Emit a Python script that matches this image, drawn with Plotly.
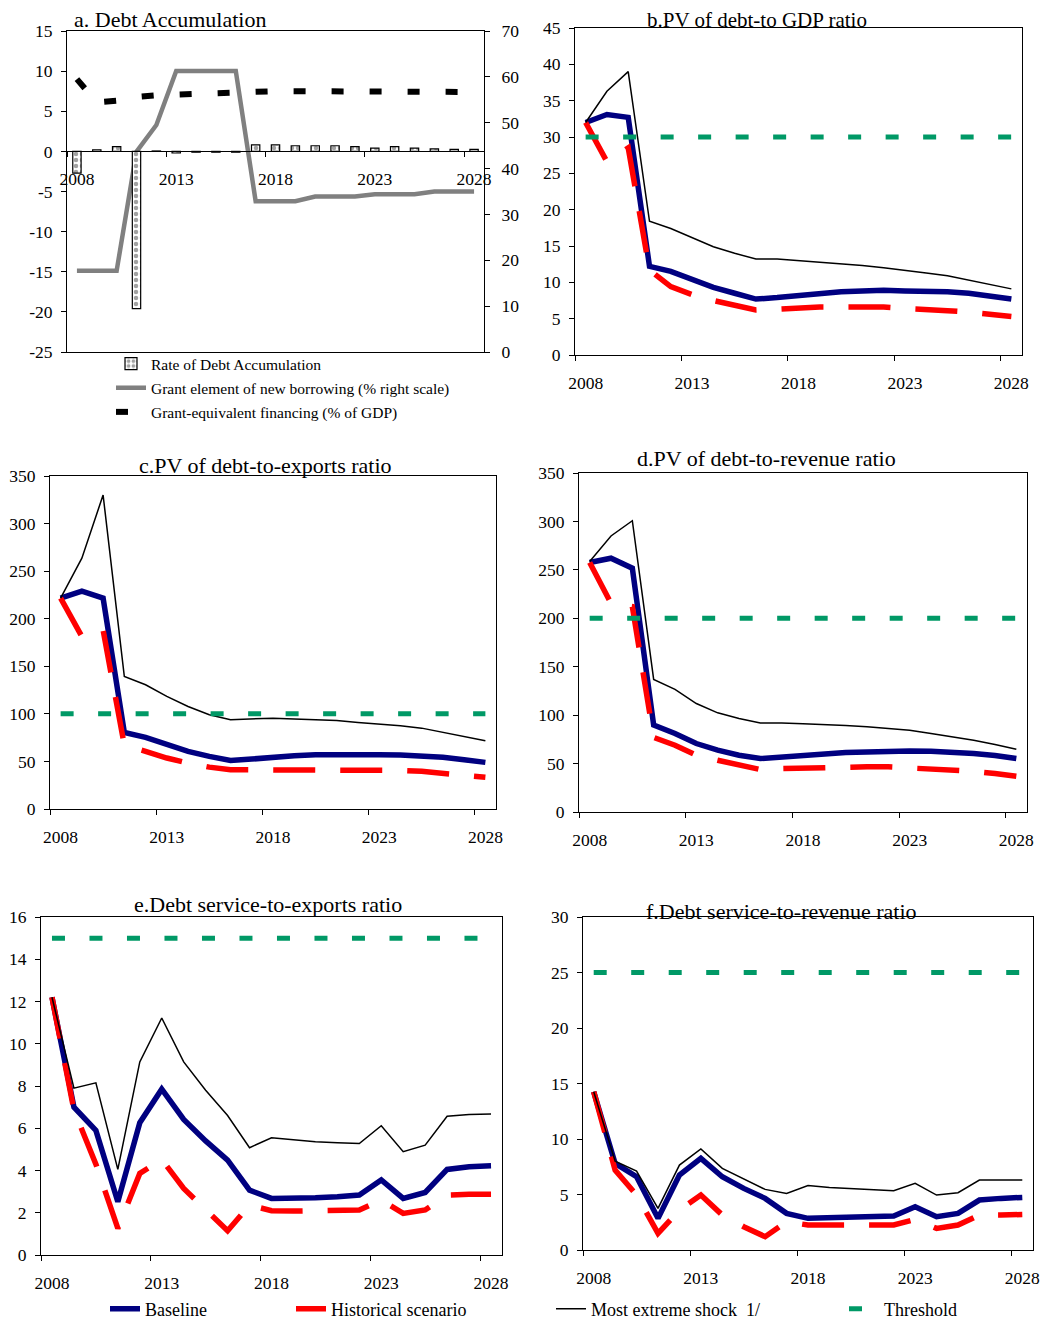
import plotly.graph_objects as go

W, H = 1049, 1323          # reference canvas
OFFS = 8                    # page body margin in the browser
FW, FH = W - OFFS, H - OFFS # figure size
FONT = "Liberation Serif"

years = list(range(2008, 2029))
tick_years = [2008, 2013, 2018, 2023, 2028]

# Panel a
debt_accum = [-2.7, 0.2, 0.6, -19.6, 0.05, -0.2, -0.1, -0.1, -0.1, 0.8, 0.8, 0.7, 0.7, 0.7, 0.6, 0.4, 0.6, 0.4, 0.3, 0.25, 0.25]
grant_element = [17.7, 17.7, 17.7, 43.7, 49.5, 61.3, 61.3, 61.3, 61.3, 32.9, 32.9, 32.9, 33.9, 33.9, 33.9, 34.4, 34.4, 34.4, 35.0, 35.0, 35.0]
grant_equiv = [9.0, 6.1, 6.3, 6.8, 7.0, 7.1, 7.2, 7.3, 7.3, 7.4, 7.5, 7.5, 7.5, 7.4, 7.4, 7.4, 7.4, 7.4, 7.4, 7.4, 7.4]

# Panel b: PV of debt-to-GDP
b_base = [32.0, 33.1, 32.7, 12.2, 11.5, 10.3, 9.3, 8.5, 7.7, 7.9, 8.2, 8.5, 8.7, 8.8, 8.9, 8.8, 8.8, 8.7, 8.5, 8.1, 7.7]
b_hist = [32.0, 26.6, 28.5, 11.7, 9.4, 8.3, 7.5, 6.9, 6.2, 6.3, 6.5, 6.6, 6.6, 6.6, 6.6, 6.4, 6.3, 6.1, 5.9, 5.6, 5.3]
b_shock = [32.0, 36.3, 39.0, 18.4, 17.4, 16.1, 14.9, 14.0, 13.2, 13.2, 13.0, 12.8, 12.5, 12.3, 12.0, 11.7, 11.3, 10.9, 10.3, 9.7, 9.1]
b_thr = 30

# Panel c: PV of debt-to-exports
c_base = [221.6, 229.0, 221.6, 80.5, 75.3, 67.6, 60.6, 55.3, 51.1, 52.5, 54.6, 56.0, 57.0, 57.4, 57.4, 57.0, 56.7, 56.0, 54.3, 51.8, 49.0]
c_hist = [221.6, 181.3, 188.0, 67.0, 60.6, 53.6, 48.3, 44.0, 41.3, 41.3, 42.0, 42.0, 42.0, 42.0, 42.0, 41.3, 40.6, 39.6, 37.1, 35.4, 33.3]
c_shock = [221.6, 263.6, 330.0, 139.3, 130.6, 118.3, 107.8, 99.0, 93.8, 94.5, 95.5, 94.5, 93.8, 93.1, 91.0, 89.3, 87.5, 85.0, 80.5, 76.3, 71.8]
c_thr = 100

# Panel d: PV of debt-to-revenue
d_base = [257.6, 262.0, 251.7, 89.7, 81.0, 70.7, 63.8, 58.6, 55.2, 56.9, 58.6, 60.3, 61.4, 62.0, 63.1, 63.1, 62.8, 62.0, 60.3, 58.3, 55.2]
d_hist = [257.6, 215.5, 212.0, 77.0, 69.0, 58.6, 53.4, 48.3, 43.8, 44.8, 45.5, 45.9, 46.2, 46.6, 46.6, 45.5, 44.8, 43.8, 42.0, 39.7, 36.9]
d_shock = [258.6, 285.0, 300.7, 136.9, 126.6, 112.0, 102.4, 96.6, 92.0, 92.0, 91.0, 90.3, 89.3, 88.0, 86.2, 84.5, 81.0, 77.6, 74.0, 69.7, 64.8]
d_thr = 200

# Panel e: Debt service-to-exports
e_base = [12.2, 7.0, 5.9, 2.52, 6.26, 7.85, 6.42, 5.4, 4.49, 3.07, 2.68, 2.68, 2.71, 2.76, 2.84, 3.55, 2.68, 2.96, 4.05, 4.18, 4.22]
e_hist = [12.2, 6.86, 4.3, 1.26, 3.86, 4.52, 3.15, 2.13, 1.15, 2.36, 2.1, 2.08, 2.08, 2.08, 2.13, 2.6, 1.97, 2.13, 2.84, 2.87, 2.87]
e_shock = [12.2, 7.9, 8.15, 4.05, 9.14, 11.22, 9.14, 7.8, 6.6, 5.08, 5.55, 5.44, 5.36, 5.31, 5.28, 6.12, 4.89, 5.2, 6.57, 6.65, 6.67]
e_thr = 15

# Panel f: Debt service-to-revenue
f_base = [14.25, 7.8, 6.6, 2.85, 6.75, 8.25, 6.6, 5.55, 4.65, 3.3, 2.85, 2.9, 2.95, 3.0, 3.06, 3.9, 3.0, 3.3, 4.5, 4.65, 4.74]
f_hist = [14.25, 7.2, 4.95, 1.5, 3.6, 4.95, 3.15, 2.1, 1.2, 2.55, 2.25, 2.25, 2.25, 2.25, 2.25, 2.76, 1.95, 2.25, 3.15, 3.15, 3.2]
f_shock = [14.25, 8.0, 7.1, 3.75, 7.65, 9.1, 7.35, 6.4, 5.46, 5.1, 5.8, 5.64, 5.55, 5.4, 5.34, 6.0, 4.95, 5.16, 6.3, 6.3, 6.3]
f_thr = 25

titles = [
    "a. Debt Accumulation",
    "b.PV of debt-to GDP ratio",
    "c.PV of debt-to-exports ratio",
    "d.PV of debt-to-revenue ratio",
    "e.Debt service-to-exports ratio",
    "f.Debt service-to-revenue ratio",
]

NAVY = "#000080"
RED = "#FF0000"
GREEN = "#009966"

def fx(px):
    return (px - OFFS) / FW

def fy(py):
    return 1 - (py - OFFS) / FH

def dx(a, b):
    return [fx(a), fx(b)]

def dy(top, bottom):
    return [fy(bottom), fy(top)]

tickfont = dict(family=FONT, size=17.5, color="black")

fig = go.Figure()

# ---------- Panel a ----------
fig.add_trace(go.Bar(
    x=years, y=debt_accum, xaxis="x7", yaxis="y", width=0.42,
    name="Rate of Debt Accumulation",
    marker=dict(color="white", line=dict(color="black", width=1.2),
                pattern=dict(shape=".", fgcolor="#444", bgcolor="white", size=6, solidity=0.45, fillmode="overlay")),
    legend="legend", legendgroup="a1", showlegend=True,
))
fig.add_trace(go.Scatter(
    x=years, y=grant_element, xaxis="x", yaxis="y2", mode="lines",
    line=dict(color="#808080", width=4.5),
    name="Grant element of new borrowing (% right scale)",
    legend="legend", legendgroup="a2",
))
fig.add_trace(go.Scatter(
    x=years, y=grant_equiv, xaxis="x", yaxis="y", mode="lines",
    line=dict(color="black", width=6, dash="12px,26px"),
    name="Grant-equivalent financing (% of GDP)",
    legend="legend", legendgroup="a3",
))

# ---------- Panels b-f ----------
panels = [
    ("x2", "y3", b_base, b_hist, b_shock, b_thr),
    ("x3", "y4", c_base, c_hist, c_shock, c_thr),
    ("x4", "y5", d_base, d_hist, d_shock, d_thr),
    ("x5", "y6", e_base, e_hist, e_shock, e_thr),
    ("x6", "y7", f_base, f_hist, f_shock, f_thr),
]
for k, (xa, ya, base, hist, shock, thr) in enumerate(panels):
    last = (k == len(panels) - 1)
    fig.add_trace(go.Scatter(x=years, y=base, xaxis=xa, yaxis=ya, mode="lines",
                             line=dict(color=NAVY, width=5.5), name="Baseline",
                             showlegend=last, legend="legend2"))
    fig.add_trace(go.Scatter(x=years, y=hist, xaxis=xa, yaxis=ya, mode="lines",
                             line=dict(color=RED, width=5.5, dash="42px,25px"),
                             name="Historical scenario", showlegend=last, legend="legend3"))
    fig.add_trace(go.Scatter(x=years, y=shock, xaxis=xa, yaxis=ya, mode="lines",
                             line=dict(color="black", width=1.5),
                             name="Most extreme shock  1/", showlegend=last, legend="legend4"))
    fig.add_trace(go.Scatter(x=years, y=[thr] * len(years), xaxis=xa, yaxis=ya, mode="lines",
                             line=dict(color=GREEN, width=5, dash="13px,24.5px"),
                             name="Threshold", showlegend=last, legend="legend5"))

# ---------- Axes ----------
def xaxis_cfg(dom, anchor, labels=True):
    return dict(
        domain=dx(*dom), anchor=anchor, range=[2007.5, 2028.5],
        showline=True, linecolor="black", linewidth=1, mirror=True,
        tickmode="array", tickvals=tick_years, ticktext=[str(t) for t in tick_years],
        ticks="", showticklabels=labels, tickfont=tickfont, ticklabelstandoff=12,
        minor=dict(tickmode="linear", tick0=2007.5, dtick=5, ticks="outside", ticklen=5,
                   tickcolor="black", tickwidth=1, showgrid=False),
        showgrid=False, zeroline=False, automargin=False,
    )

def yaxis_cfg(dom, anchor, lo, hi, step, standoff=5):
    vals = list(range(lo, hi + 1, step))
    return dict(
        domain=dy(*dom), anchor=anchor, range=[lo, hi],
        tickmode="array", tickvals=vals, ticktext=[str(v) for v in vals],
        showline=True, linecolor="black", linewidth=1, mirror=True,
        ticks="outside", ticklen=5, tickcolor="black", tickfont=tickfont,
        ticklabelstandoff=standoff,
        showgrid=False, zeroline=False, automargin=False,
    )

a_dom_x, a_dom_y = (67, 484), (31, 352)
b_dom_x, b_dom_y = (575, 1022), (28, 355)
c_dom_x, c_dom_y = (50, 496), (476, 809)
d_dom_x, d_dom_y = (579, 1027), (473, 812)
e_dom_x, e_dom_y = (41, 502), (917, 1255)
f_dom_x, f_dom_y = (583, 1033), (917, 1250)

ax_a = xaxis_cfg(a_dom_x, "y", labels=False)
ax_a["minor"] = dict(ticks="")
ya_dom = dy(*a_dom_y)
zero_pos = ya_dom[0] + (25 / 40) * (ya_dom[1] - ya_dom[0])
ax_zero = xaxis_cfg(a_dom_x, "free")
ax_zero.update(overlaying="x", position=zero_pos, mirror=False)

y_a = yaxis_cfg(a_dom_y, "x", -25, 15, 5)
y_a["mirror"] = False
y_a2 = yaxis_cfg(a_dom_y, "x", 0, 70, 10, standoff=8)
y_a2.update(overlaying="y", side="right", mirror=False)

fig.update_layout(
    xaxis=ax_a, yaxis=y_a, yaxis2=y_a2, xaxis7=ax_zero,
    xaxis2=xaxis_cfg(b_dom_x, "y3"), yaxis3=yaxis_cfg(b_dom_y, "x2", 0, 45, 5),
    xaxis3=xaxis_cfg(c_dom_x, "y4"), yaxis4=yaxis_cfg(c_dom_y, "x3", 0, 350, 50),
    xaxis4=xaxis_cfg(d_dom_x, "y5"), yaxis5=yaxis_cfg(d_dom_y, "x4", 0, 350, 50),
    xaxis5=xaxis_cfg(e_dom_x, "y6"), yaxis6=yaxis_cfg(e_dom_y, "x5", 0, 16, 2),
    xaxis6=xaxis_cfg(f_dom_x, "y7"), yaxis7=yaxis_cfg(f_dom_y, "x6", 0, 30, 5),
)

# ---------- Titles ----------
title_pos = [
    (72, 19, "left", 22),
    (757, 20, "center", 21),
    (265, 465, "center", 22),
    (766, 458, "center", 22),
    (268, 904, "center", 22),
    (781, 911, "center", 22),
]
for t, (px, py, al, sz) in zip(titles, title_pos):
    fig.add_annotation(text=t, x=fx(px), y=fy(py), xref="paper", yref="paper",
                       xanchor=al, yanchor="middle", showarrow=False,
                       font=dict(family=FONT, size=sz, color="black"))

# ---------- Legends ----------
legfont = dict(family=FONT, size=15.5, color="black")
bfont = dict(family=FONT, size=18, color="black")
TXT = 40
def single_leg(text_x, text_y, font):
    return dict(x=fx(text_x - TXT), y=fy(text_y), xanchor="left", yanchor="middle",
                bgcolor="rgba(0,0,0,0)", borderwidth=0, font=font, orientation="v")

fig.update_layout(
    legend=dict(x=fx(151 - TXT), y=fy(347), xanchor="left", yanchor="top",
                bgcolor="rgba(0,0,0,0)", borderwidth=0, font=legfont, tracegroupgap=1,
                orientation="v"),
    legend2=single_leg(145, 1309, bfont),
    legend3=single_leg(331, 1309, bfont),
    legend4=single_leg(591, 1309, bfont),
    legend5=single_leg(884, 1309, bfont),
)

fig.update_layout(
    width=FW, height=FH, margin=dict(l=0, r=0, t=0, b=0, autoexpand=False),
    paper_bgcolor="white", plot_bgcolor="white",
    font=dict(family=FONT, color="black"), barmode="overlay",
)

fig.write_html("out.html")
